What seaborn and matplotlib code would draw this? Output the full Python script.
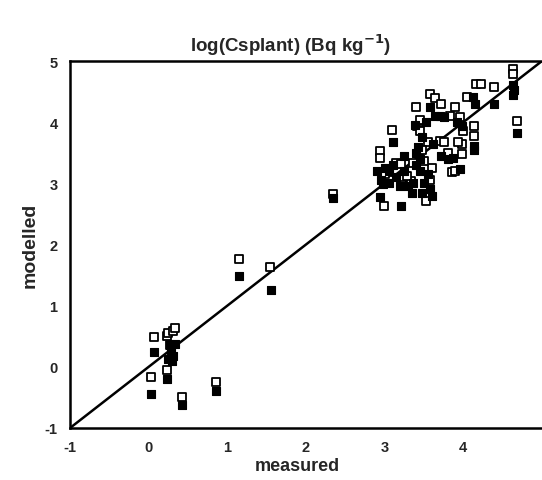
import matplotlib
matplotlib.use("Agg")
import matplotlib.pyplot as plt
import seaborn as sns
import pandas as pd

# open squares (series 1)
open_x = [0.07, 0.03, 0.23, 0.23, 0.24, 0.31, 0.33, 0.27, 0.43, 0.86, 1.15, 1.54, 2.34,
          2.94, 2.94, 2.99, 3.09, 3.15, 3.21, 3.34, 3.41, 3.40, 3.53, 3.55, 3.57, 3.64,
          3.72, 3.83, 3.90, 3.96, 3.98, 3.98, 3.85, 3.90, 4.05, 4.13, 4.13, 4.16, 4.22,
          4.39, 4.63, 4.63, 4.68, 3.70, 3.76, 3.45, 3.47, 3.05, 3.22, 3.58, 3.60, 3.50,
          3.28, 3.00, 4.00, 3.80, 3.93, 3.36, 3.45]
open_y = [0.48, -0.17, -0.05, 0.51, 0.55, 0.59, 0.63, 0.35, -0.49, -0.24, 1.76, 1.64, 2.82,
          3.53, 3.42, 2.63, 3.87, 3.34, 3.31, 3.04, 3.94, 4.25, 2.71, 3.67, 4.46, 4.40,
          4.29, 4.10, 4.25, 4.08, 3.64, 3.48, 3.18, 3.20, 4.41, 3.94, 3.78, 4.63, 4.63,
          4.58, 4.87, 4.78, 4.02, 3.70, 3.68, 3.85, 3.55, 3.05, 2.98, 3.05, 3.25, 3.37,
          3.12, 3.15, 3.85, 3.50, 3.68, 3.33, 4.03]

# filled squares (series 2)
fill_x = [0.07, 0.03, 0.23, 0.27, 0.29, 0.31, 0.33, 0.25, 0.30, 0.43, 0.86, 1.15, 1.55, 2.34,
          2.90, 2.95, 3.00, 3.05, 2.98, 2.94, 3.21, 3.10, 3.15, 3.20, 3.25, 3.30, 3.36,
          3.38, 3.40, 3.42, 3.45, 3.45, 3.48, 3.50, 3.55, 3.58, 3.60, 3.47, 3.52, 3.57,
          3.64, 3.70, 3.76, 3.72, 3.80, 3.87, 3.92, 3.98, 3.96, 4.12, 4.15, 4.13, 4.13,
          4.39, 4.63, 4.63, 4.65, 4.68, 3.10, 3.40, 3.35, 3.62, 3.25, 3.05]
fill_y = [0.25, -0.44, -0.20, 0.35, 0.28, 0.18, 0.38, 0.12, 0.10, -0.62, -0.39, 1.49, 1.25, 2.76,
          3.20, 3.05, 3.25, 3.00, 2.99, 2.77, 2.63, 3.67, 3.10, 2.95, 3.20, 2.95, 3.00,
          3.95, 3.50, 3.60, 3.40, 3.20, 2.85, 3.00, 3.15, 2.90, 2.80, 3.75, 4.00, 4.24,
          4.10, 4.10, 4.08, 3.45, 3.40, 3.42, 4.00, 3.93, 3.23, 4.41, 4.29, 3.61, 3.55,
          4.29, 4.60, 4.45, 4.52, 3.82, 3.30, 3.30, 2.85, 3.65, 3.45, 3.20]

line_x = [-1, 5]
line_y = [-1, 5]
x_ticks = [-1, 0, 1, 2, 3, 4, 5]
x_tick_labels = ["-1", "0", "1", "2", "3", "4", ""]
y_ticks = [-1, 0, 1, 2, 3, 4, 5]
y_tick_labels = ["-1", "0", "1", "2", "3", "4", "5"]

sns.set_style("white")
plt.rcParams['font.family'] = ['Liberation Sans', 'DejaVu Sans']

fig = plt.figure(figsize=(5.42, 4.81), dpi=100)
ax = fig.add_axes([70/542, (481-429)/481, 472/542, 367/481])

df_open = pd.DataFrame({"x": open_x, "y": open_y})
df_fill = pd.DataFrame({"x": fill_x, "y": fill_y})

sns.lineplot(x=line_x, y=line_y, ax=ax, color="black", linewidth=1.8, zorder=3)
sns.scatterplot(data=df_open, x="x", y="y", ax=ax, marker="s", s=32,
                facecolor="white", edgecolor="black", linewidth=1.3, zorder=4)
sns.scatterplot(data=df_fill, x="x", y="y", ax=ax, marker="s", s=32,
                color="black", edgecolor="black", linewidth=0.8, zorder=5)

ax.set_xlim(-1, 5)
ax.set_ylim(-1, 5)
ax.set_xticks(x_ticks)
ax.set_yticks(y_ticks)
ax.set_xticklabels(x_tick_labels, fontweight="bold", fontsize=10.5)
ax.set_yticklabels(y_tick_labels, fontweight="bold", fontsize=10.5)
ax.tick_params(direction="inout", length=10, width=1.5, color="black", pad=4)

for side in ["left", "bottom", "top"]:
    ax.spines[side].set_visible(True)
    ax.spines[side].set_linewidth(1.8)
    ax.spines[side].set_color("black")
ax.spines["right"].set_visible(False)

ax.set_xlabel("")
ax.set_ylabel("")
fig.text(297/542, 1 - 467/481, "measured", ha="center", va="center",
         fontsize=13, fontweight="bold")
fig.text(30/542, 1 - 245/481, "modelled", ha="center", va="center",
         rotation=90, fontsize=14, fontweight="bold")
fig.text(291/542, 1 - 45/481, r"log(Csplant) (Bq kg$^{\mathbf{-1}}$)", ha="center", va="center",
         fontsize=13.5, fontweight="bold")

fig.savefig("out.png", dpi=100)
